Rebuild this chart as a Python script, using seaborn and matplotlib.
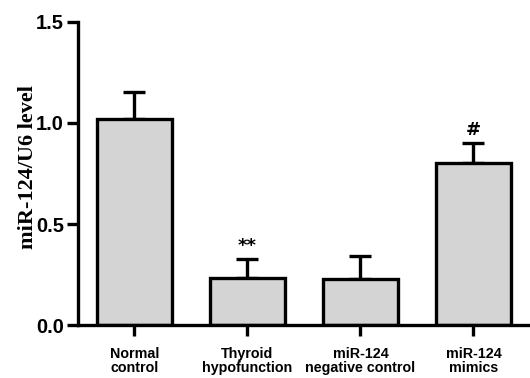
import matplotlib
matplotlib.use("Agg")
import matplotlib.pyplot as plt
import pandas as pd
import seaborn as sns

groups = ["Normal\ncontrol", "Thyroid\nhypofunction", "miR-124\nnegative control", "miR-124\nmimics"]
means = [1.02, 0.235, 0.228, 0.80]
errors = [0.135, 0.09, 0.115, 0.10]
marks = ["", "**", "", "#"]

df = pd.DataFrame({"group": groups, "level": means})

sns.set_style("ticks")
fig = plt.figure(figsize=(5.3, 3.78), dpi=100)
ax = fig.add_axes([0.147, 0.14, 0.853, 0.802])

sns.barplot(x="group", y="level", data=df, color="#d4d4d4", edgecolor="black",
            linewidth=2.4, width=0.66, saturation=1, ax=ax)
ax.errorbar(range(len(means)), means, yerr=[[0] * len(means), errors], fmt="none",
            ecolor="black", elinewidth=2.4, capsize=8, capthick=2.4, zorder=0)

for i, m in enumerate(marks):
    if m:
        ax.text(i, means[i] + errors[i] + 0.02, m, ha="center", va="bottom",
                fontsize=13, fontweight="bold", family="DejaVu Sans", color="black")

ax.set_xlim(-0.5, 3.5)
ax.set_ylim(0, 1.5)
ax.set_yticks([0, 0.5, 1.0, 1.5])
ax.set_yticklabels(["0.0", "0.5", "1.0", "1.5"], fontsize=14.5, fontweight="bold",
                   family="Liberation Sans", color="black")
ax.set_xticks(range(len(groups)))
ax.set_xticklabels(groups, fontsize=10.3, fontweight="bold", family="Liberation Sans",
                   linespacing=1.0, color="black")
ax.set_xlabel("")
ax.set_ylabel("miR-124/U6 level", fontsize=16, fontweight="bold",
              family="Liberation Serif", color="black")
ax.yaxis.set_label_coords(-0.088, 0.52)
ax.tick_params(width=2.4, length=8, color="black")
ax.tick_params(axis="x", pad=8)
ax.tick_params(axis="y", pad=2)
sns.despine(ax=ax)
ax.spines["left"].set_linewidth(2.4)
ax.spines["bottom"].set_linewidth(2.4)
ax.spines["left"].set_color("black")
ax.spines["bottom"].set_color("black")

fig.savefig("out.png", dpi=100)
